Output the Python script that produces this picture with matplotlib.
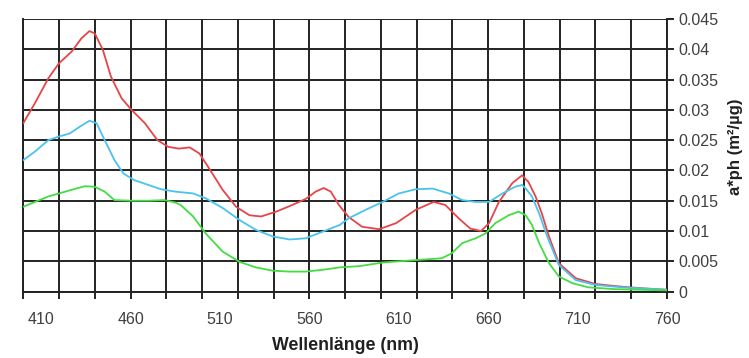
import numpy as np
import matplotlib
matplotlib.use("Agg")
import matplotlib.pyplot as plt

plt.rcParams['font.family'] = ['Liberation Sans', 'DejaVu Sans']

# Werte
wl_red = [400, 406.5, 414, 420, 427, 432.5, 437, 440, 444.5, 449, 455, 460.5, 468, 475,
          481, 487, 493, 498.5, 504, 511.5, 519, 526.5, 533, 541.5, 550.5, 558, 563.5,
          568, 572, 576.5, 582, 589.5, 599, 608.5, 619.5, 629.5, 636, 643.5, 650, 656,
          660.5, 666, 673.5, 679, 682.5, 686.5, 690, 694, 699.5, 709, 720, 735, 746, 760]
red = [0.0278, 0.0311, 0.0352, 0.0377, 0.0396, 0.0418, 0.0430, 0.0426, 0.0399, 0.0355,
       0.0319, 0.0300, 0.0278, 0.0250, 0.0239, 0.0236, 0.0238, 0.0228, 0.0203, 0.0168,
       0.0140, 0.0126, 0.0124, 0.0132, 0.0143, 0.0153, 0.0165, 0.0171, 0.0165, 0.0143,
       0.0123, 0.0107, 0.0103, 0.0113, 0.0135, 0.0148, 0.0143, 0.0121, 0.0104, 0.0100,
       0.0113, 0.0148, 0.0179, 0.0192, 0.0181, 0.0157, 0.0129, 0.0091, 0.0047, 0.0022,
       0.00125, 0.0008, 0.00055, 0.0003]

wl_cyan = [400, 406.5, 414, 420, 426, 431.5, 437, 441, 445.5, 451, 456, 462, 470, 477,
           485, 495, 502, 511.5, 521, 530, 539.5, 549, 558, 567.5, 577, 582, 591.5, 601,
           610, 619.5, 629, 638, 645.5, 653, 660.5, 668, 675, 679, 681, 684.5, 688.5,
           693, 699.5, 709, 720, 735, 760]
cyan = [0.0217, 0.0231, 0.0250, 0.0256, 0.0261, 0.0272, 0.0282, 0.0278, 0.0250, 0.0217,
        0.0195, 0.0184, 0.0176, 0.0169, 0.0165, 0.0162, 0.0154, 0.0138, 0.0118, 0.0102,
        0.0091, 0.0086, 0.0088, 0.0099, 0.0110, 0.0121, 0.0135, 0.0148, 0.0162, 0.0169,
        0.0170, 0.0162, 0.0151, 0.0148, 0.0148, 0.0162, 0.0173, 0.0176, 0.0170, 0.0157,
        0.0129, 0.0091, 0.0044, 0.0019, 0.0011, 0.0007, 0.0003]

wl_green = [400, 406.5, 414, 420, 427, 434.5, 440, 445.5, 451, 460.5, 470, 479, 485, 488,
            495, 502, 511.5, 521, 530, 539.5, 549, 558, 567.5, 577, 588, 601, 619.5, 634,
            639.5, 645.5, 653, 658.5, 664, 671.5, 677, 681, 684.5, 688.5, 694, 699.5, 707,
            716, 731, 760]
green = [0.0140, 0.0148, 0.0157, 0.0162, 0.0168, 0.0174, 0.0173, 0.0165, 0.0151, 0.0150,
         0.0150, 0.0151, 0.0147, 0.0143, 0.0124, 0.0096, 0.0066, 0.0049, 0.0040, 0.00345,
         0.0033, 0.0033, 0.0036, 0.0040, 0.0042, 0.0048, 0.0052, 0.0055, 0.0063, 0.0080,
         0.0088, 0.0096, 0.0113, 0.0126, 0.0132, 0.0126, 0.0110, 0.0080, 0.0047, 0.0025,
         0.0014, 0.0007, 0.0004, 0.0002]

x_labels = [410, 460, 510, 560, 610, 660, 710, 760]
x_grid = list(range(400, 761, 20))
y_ticks = [0, 0.005, 0.01, 0.015, 0.02, 0.025, 0.03, 0.035, 0.04, 0.045]
y_labels = ['0', '0.005', '0.01', '0.015', '0.02', '0.025', '0.03', '0.035', '0.04', '0.045']

grid_col = '#222222'
text_col = '#404040'

fig = plt.figure(figsize=(7.49, 3.58), dpi=100)
ax = fig.add_axes([0.0311, 0.1855, 0.8594, 0.7615])

ax.plot(wl_red, red, color='#e84448', lw=1.3, zorder=3, solid_joinstyle='round')
ax.plot(wl_cyan, cyan, color='#48c4ec', lw=1.3, zorder=3, solid_joinstyle='round')
ax.plot(wl_green, green, color='#44dc44', lw=1.3, zorder=3, solid_joinstyle='round')

ax.set_xlim(400, 760)
ax.set_ylim(0, 0.045)

# Beschriftungen an 410, 460, ... ohne Strich; Gitter alle 20 nm
ax.xaxis.remove_overlapping_locs = False
ax.set_xticks(x_labels)
ax.set_xticklabels([str(v) for v in x_labels])
ax.set_xticks(x_grid, minor=True)
ax.tick_params(axis='x', which='major', length=0, pad=15, labelsize=11.5, labelcolor=text_col)
ax.tick_params(axis='x', which='minor', length=5, width=1.4, color=grid_col, direction='out')
ax.grid(True, axis='x', which='minor', color=grid_col, lw=1.4)

ax.yaxis.tick_right()
ax.set_yticks(y_ticks)
ax.set_yticklabels(y_labels)
ax.tick_params(axis='y', which='major', length=5, width=1.4, color=grid_col, direction='out',
               pad=3, labelsize=11.5, labelcolor=text_col)
ax.grid(True, axis='y', which='major', color=grid_col, lw=1.4)

ax.spines['top'].set_visible(False)
for side in ['left', 'right', 'bottom']:
    ax.spines[side].set_color(grid_col)
    ax.spines[side].set_linewidth(1.4)

ax.yaxis.set_label_position('right')
ax.set_ylabel('a*ph (m²/µg)', fontsize=12, fontweight='bold', color='#202020', labelpad=7)
ax.yaxis.label.set_y(0.53)
ax.set_xlabel('Wellenlänge (nm)', fontsize=12.8, fontweight='bold', color='#202020', labelpad=7)

fig.savefig('out.png', dpi=100)
